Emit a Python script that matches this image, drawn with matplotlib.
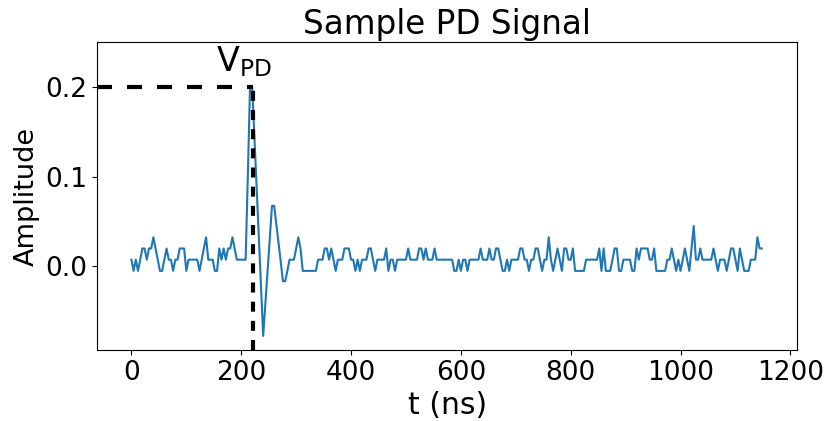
import numpy as np
import matplotlib
matplotlib.use("Agg")
import matplotlib.pyplot as plt

# quantised noise levels
L = -0.005
M = 0.0075
H = 0.02
T = 0.0325
S = 0.045

# MARK: - Data (one sample every 4 ns)
sample_period_ns = 4

noise_before = [
    M, L, M, L, M, H, H, M, H, H, T, H, M, L, L, M, H, M, M, L,
    M, M, H, H, H, L, M, M, M, M, M, L, M, H, T, M, M, M, L, L,
    H, M, H, M, H, H, T, H, M, M, M, M, M,
]

pulse = [
    0.1, 0.2, 0.2, 0.145, 0.09, 0.034, -0.022, -0.0775, -0.041, -0.005,
    0.031, 0.0675, 0.0675, 0.047, 0.026, 0.005, -0.0165, -0.0165, -0.005,
    M, M, M, H, T, H,
]

noise_after = [
    # 78 - 119
    L, L, L, L, L, L, L, M, M, M, H, H, M, H, M, L, M, M, M, H,
    H, H, M, M, L, M, L, M, M, M, H, H, M, L, M, M, M, M, H, L,
    M, M,
    # 120 - 164
    L, M, M, M, M, M, H, M, M, M, M, H, H, M, H, M, M, M, H, M,
    M, M, M, M, M, M, M, L, L, M, L, M, M, L, M, M, M, M, M, H,
    M, M, M, H, M,
    # 165 - 207
    M, H, H, M, L, L, M, L, M, M, M, M, H, H, M, M, L, M, M, H,
    H, M, L, M, M, T, M, L, M, H, M, L, H, H, M, M, H, L, L, L,
    L, L, M,
    # 208 - 250
    M, M, M, M, M, H, L, H, L, L, L, M, H, H, L, L, M, M, M, M,
    L, L, H, M, H, H, H, H, M, M, H, L, L, L, L, L, M, M, H, M,
    L, M, L,
    # 251 - 287
    M, H, M, L, H, S, M, M, H, M, M, M, M, M, H, M, L, M, M, M,
    L, M, H, H, M, L, H, M, L, L, L, M, M, M, T, H, H,
]

amplitude = np.array(noise_before + pulse + noise_after)
t_ns = np.arange(len(amplitude)) * sample_period_ns

v_pd = 0.2
t_peak = 222

x_ticks = [0, 200, 400, 600, 800, 1000, 1200]
y_ticks = [0.0, 0.1, 0.2]


# MARK: - Plot
def plot_pd_signal():
    fig = plt.figure(figsize=(8.25, 4.21), dpi=100)
    ax = fig.add_axes([0.118, 0.169, 0.848, 0.731])

    ax.plot(t_ns, amplitude, color="#1f77b4", linewidth=1.5)

    x_left, x_right = -62, 1212
    y_bottom, y_top = -0.093, 0.25

    ax.plot([x_left, t_peak], [v_pd, v_pd], color="black", linewidth=3,
            linestyle=(0, (3.6, 3.6)))
    ax.plot([t_peak, t_peak], [y_bottom, v_pd], color="black", linewidth=3,
            linestyle=(0, (2.4, 2.2)))
    ax.text(204, 0.209, r"$\mathregular{V_{PD}}$", fontsize=24,
            ha="center", va="bottom")

    ax.set_xlim(x_left, x_right)
    ax.set_ylim(y_bottom, y_top)
    ax.set_xticks(x_ticks)
    ax.set_yticks(y_ticks)
    ax.tick_params(labelsize=19)

    ax.set_title("Sample PD Signal", fontsize=23.5)
    ax.set_xlabel("t (ns)", fontsize=21.5)
    ax.set_ylabel("Amplitude", fontsize=19.5)

    fig.savefig("out.png", dpi=100)


if (__name__ == "__main__"):
    plot_pd_signal()
